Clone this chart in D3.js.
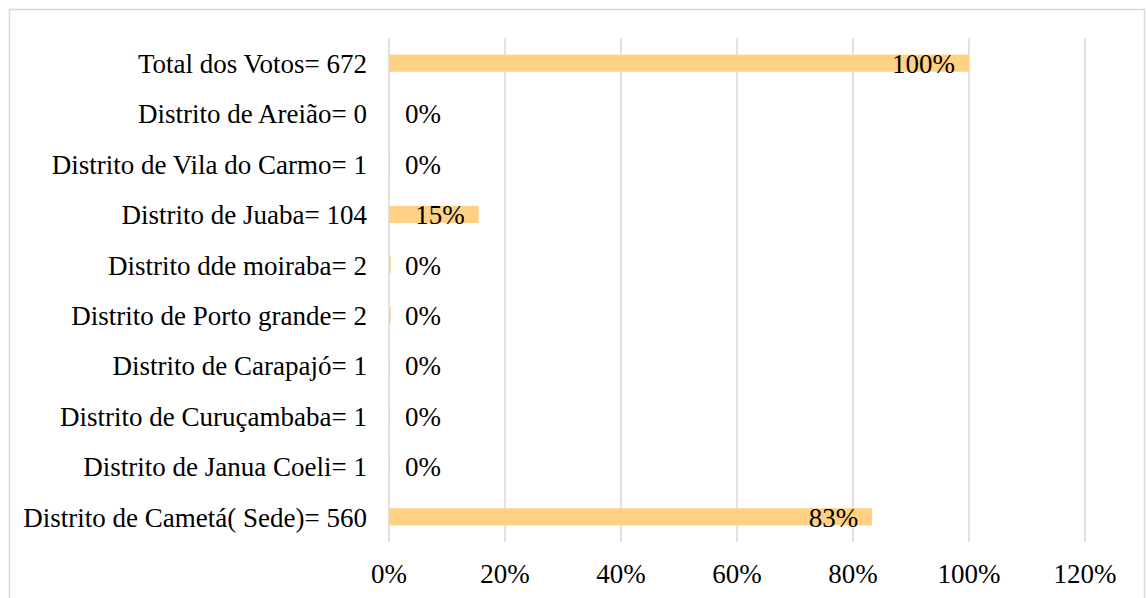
<!DOCTYPE html>
<html>
<head>
<meta charset="utf-8">
<script src="https://cdn.jsdelivr.net/npm/d3@7"></script>
<style>
  body { margin: 0; background: #fff; }
  text { font-family: "Liberation Serif", "Times New Roman", serif; fill: #000; }
</style>
</head>
<body>
<main></main>
<script>
// categories, top to bottom as drawn
let categories = [
    "Total dos Votos= 672",
    "Distrito de Areião= 0",
    "Distrito de Vila do Carmo= 1",
    "Distrito de Juaba= 104",
    "Distrito dde moiraba= 2",
    "Distrito de Porto grande= 2",
    "Distrito de Carapajó= 1",
    "Distrito de Curuçambaba= 1",
    "Distrito de Janua Coeli= 1",
    "Distrito de Cametá( Sede)= 560"
]
// share of total votes
let shares = [1.0, 0, 0.0015, 0.1548, 0.003, 0.003, 0.0015, 0.0015, 0.0015, 0.833]
let tickValues = [0, 0.2, 0.4, 0.6, 0.8, 1.0, 1.2]

let width = 1147, height = 598
let margin = {top: 38, right: 62, bottom: 56, left: 389}
let fontSize = '27px'

let svg = d3.select('main').append('svg')
    .attr('width', width)
    .attr('height', height)

// outer frame
svg.append('rect')
    .attr('x', 9.5).attr('y', 9.5)
    .attr('width', 1135).attr('height', 620)
    .attr('fill', 'none')
    .attr('stroke', '#d9d9d9')
    .attr('stroke-width', 1.5)

let x = d3.scaleLinear()
    .domain([0, 1.2])
    .range([margin.left, width - margin.right])

let y = d3.scaleBand()
    .domain(categories)
    .range([margin.top, height - margin.bottom])
    .paddingInner(0.66)
    .paddingOuter(0.33)

// gridlines
svg.append('g')
    .selectAll('line')
    .data(tickValues)
    .join('line')
    .attr('x1', d => x(d)).attr('x2', d => x(d))
    .attr('y1', margin.top).attr('y2', height - margin.bottom)
    .attr('stroke', '#d9d9d9')
    .attr('stroke-width', 1.5)

// bars
svg.append('g')
    .selectAll('rect')
    .data(shares)
    .join('rect')
    .attr('x', x(0))
    .attr('y', (d, i) => y(categories[i]))
    .attr('width', d => x(d) - x(0))
    .attr('height', y.bandwidth())
    .attr('fill', '#ffd185')

// bar labels
svg.append('g')
    .selectAll('text')
    .data(shares)
    .join('text')
    .attr('x', d => (x(d) - x(0) > 60) ? x(d) - 14 : x(0) + 16)
    .attr('y', (d, i) => y(categories[i]) + y.bandwidth() / 2)
    .attr('dy', '0.36em')
    .attr('text-anchor', d => (x(d) - x(0) > 60) ? 'end' : 'start')
    .style('font-size', fontSize)
    .text(d => d3.format('.0%')(d))

// category labels
svg.append('g')
    .selectAll('text')
    .data(categories)
    .join('text')
    .attr('x', margin.left - 22)
    .attr('y', d => y(d) + y.bandwidth() / 2)
    .attr('dy', '0.36em')
    .attr('text-anchor', 'end')
    .style('font-size', fontSize)
    .text(d => d)

// x tick labels
svg.append('g')
    .selectAll('text')
    .data(tickValues)
    .join('text')
    .attr('x', d => x(d))
    .attr('y', 573)
    .attr('dy', '0.36em')
    .attr('text-anchor', 'middle')
    .style('font-size', fontSize)
    .text(d => d3.format('.0%')(d))
</script>
</body>
</html>
